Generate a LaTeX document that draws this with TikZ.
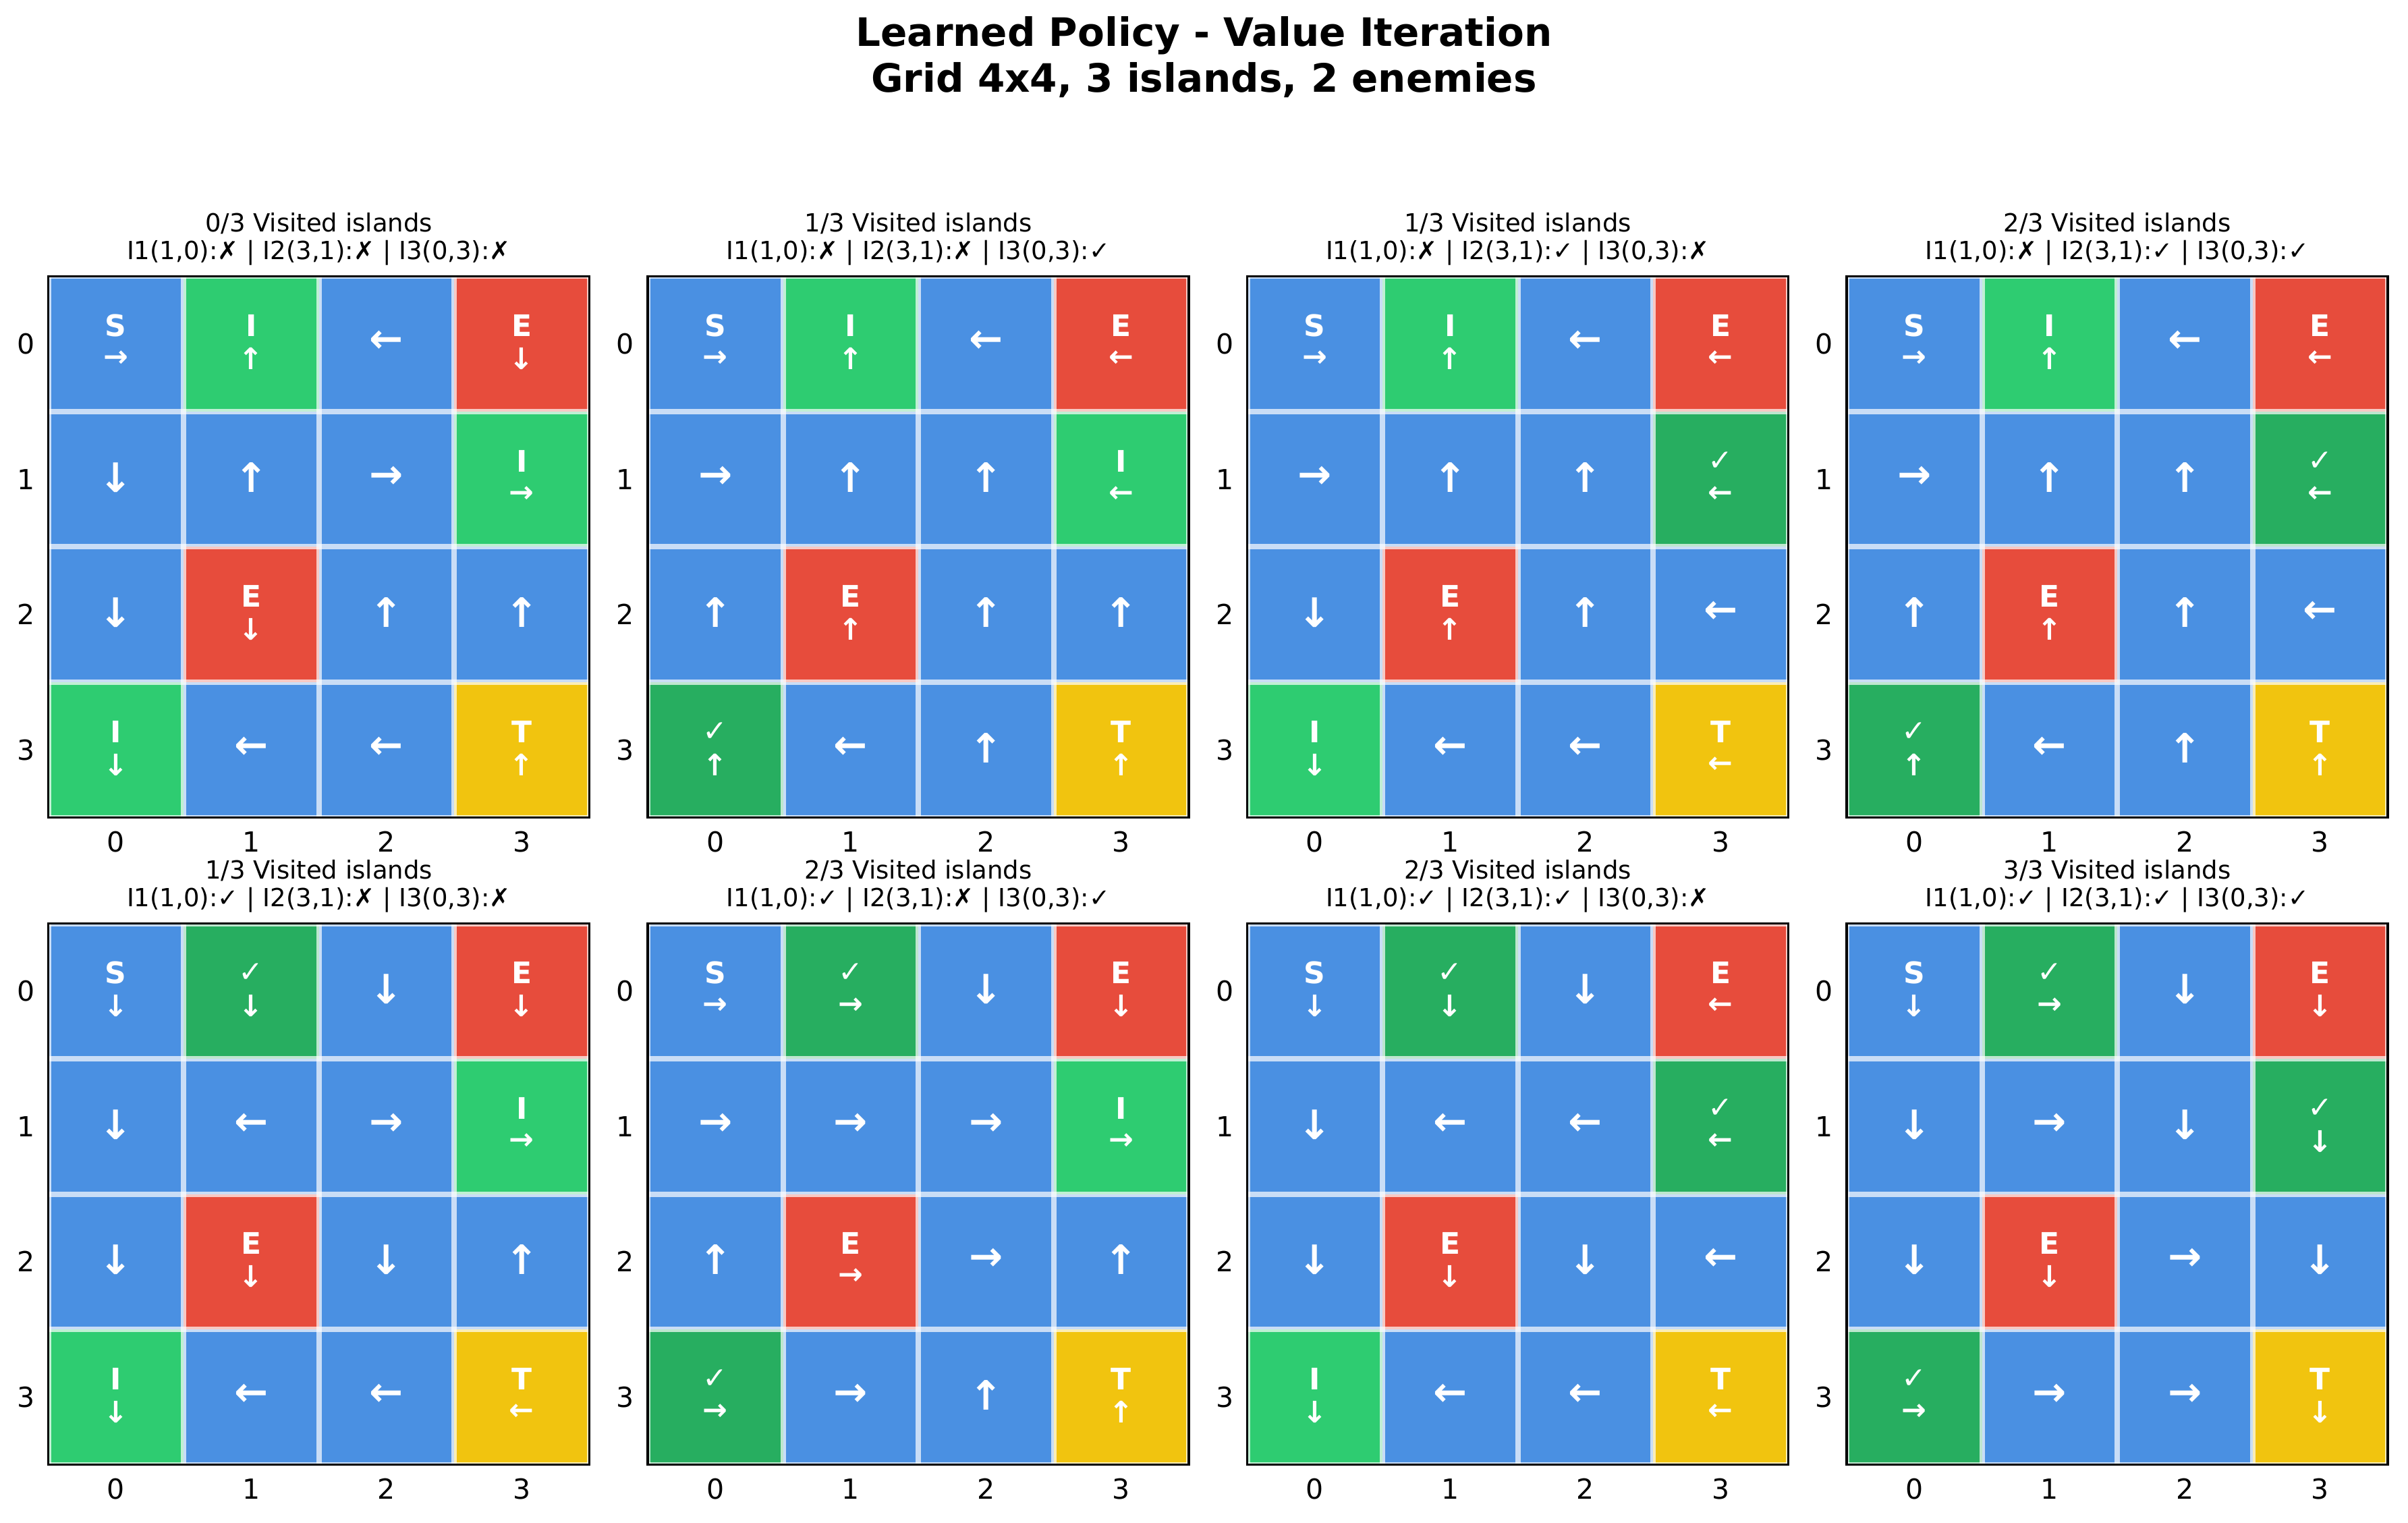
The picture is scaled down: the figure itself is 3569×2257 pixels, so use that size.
\documentclass[tikz,border=0pt]{standalone}
\usepackage{fontspec}
\setmainfont{DejaVu Sans}
\newfontfamily\djs{DejaVu Sans}
\definecolor{colB}{HTML}{4A90E2}
\definecolor{colS}{HTML}{4A90E2}
\definecolor{colI}{HTML}{2ECC71}
\definecolor{colV}{HTML}{27AE60}
\definecolor{colE}{HTML}{E74C3C}
\definecolor{colT}{HTML}{F1C40F}
\def\letS{S}\def\letI{I}\def\letE{E}\def\letT{T}\def\letV{{\mdseries ✓}}
\tikzset{
  titletext/.style={font=\fontsize{14.5}{17}\selectfont\bfseries, inner sep=0, anchor=base},
  subtext/.style={font=\fontsize{9.25}{11}\selectfont, inner sep=0, anchor=base},
  ticktext/.style={font=\fontsize{10.25}{12}\selectfont, inner sep=0},
  letter/.style={font=\fontsize{11}{13}\selectfont\bfseries, text=white, inner sep=0},
  smallarrow/.style={font=\fontsize{11}{13}\selectfont\bfseries, text=white, inner sep=0},
  bigarrow/.style={font=\fontsize{15}{18}\selectfont\bfseries, text=white, inner sep=0},
  gridline/.style={draw=white, draw opacity=0.7, line width=2pt},
  frame/.style={draw=black, line width=0.875pt},
}
\newcommand\drawpanel[6]{%
  \foreach \r/\c/\k/\a in {#6}{%
    \edef\cc{col\k}%
    \fill[fill=\cc] ({#2+\c*200.5},{#3+\r*200.5}) rectangle ++(200.5,200.5);
  }
  \foreach \i in {0,...,4}{%
    \draw[gridline] ({#2+\i*200.5},#3) -- ++(0,802);
    \draw[gridline] (#2,{#3+\i*200.5}) -- ++(802,0);
  }
  \foreach \r/\c/\k/\a in {#6}{%
    \pgfmathsetmacro\cx{#2+(\c+0.5)*200.5}%
    \pgfmathsetmacro\cy{#3+(\r+0.5)*200.5}%
    \if B\k
      \node[bigarrow] (p#1-\r-\c) at (\cx,\cy-3) {\a};
    \else
      \node[letter] (p#1-\r-\c-l) at (\cx,\cy-27) {\csname let\k\endcsname};
      \node[smallarrow] (p#1-\r-\c-a) at (\cx,\cy+22) {\a};
    \fi
  }
  \draw[frame] (#2,#3) rectangle ++(802,802);
  \foreach \i in {0,...,3}{%
    \node[ticktext] (p#1-y\i) at ({#2-33},{#3+(\i+0.5)*200.5}) {\i};
    \node[ticktext] (p#1-x\i) at ({#2+(\i+0.5)*200.5},{#3+838}) {\i};
  }
  \node[subtext] (p#1-s1) at ({#2+401},{#3-66}) {#4};
  \node[subtext] (p#1-s2) at ({#2+401},{#3-25}) {#5};
}
\begin{document}
\begin{tikzpicture}[x=0.25pt, y=-0.25pt]
\useasboundingbox (0,0) rectangle (3569,2257);
\node[titletext] (title1) at (1784.5,69) {Learned Policy - Value Iteration};
\node[titletext] (title2) at (1784.5,137) {Grid 4x4, 3 islands, 2 enemies};

\drawpanel{1}{71.5}{409.5}{0/3 Visited islands}{I1(1,0):✗ | I2(3,1):✗ | I3(0,3):✗}{
0/0/S/→, 0/1/I/↑, 0/2/B/←, 0/3/E/↓,
1/0/B/↓, 1/1/B/↑, 1/2/B/→, 1/3/I/→,
2/0/B/↓, 2/1/E/↓, 2/2/B/↑, 2/3/B/↑,
3/0/I/↓, 3/1/B/←, 3/2/B/←, 3/3/T/↑}

\drawpanel{2}{960}{409.5}{1/3 Visited islands}{I1(1,0):✗ | I2(3,1):✗ | I3(0,3):✓}{
0/0/S/→, 0/1/I/↑, 0/2/B/←, 0/3/E/←,
1/0/B/→, 1/1/B/↑, 1/2/B/↑, 1/3/I/←,
2/0/B/↑, 2/1/E/↑, 2/2/B/↑, 2/3/B/↑,
3/0/V/↑, 3/1/B/←, 3/2/B/↑, 3/3/T/↑}

\drawpanel{3}{1848.5}{409.5}{1/3 Visited islands}{I1(1,0):✗ | I2(3,1):✓ | I3(0,3):✗}{
0/0/S/→, 0/1/I/↑, 0/2/B/←, 0/3/E/←,
1/0/B/→, 1/1/B/↑, 1/2/B/↑, 1/3/V/←,
2/0/B/↓, 2/1/E/↑, 2/2/B/↑, 2/3/B/←,
3/0/I/↓, 3/1/B/←, 3/2/B/←, 3/3/T/←}

\drawpanel{4}{2737}{409.5}{2/3 Visited islands}{I1(1,0):✗ | I2(3,1):✓ | I3(0,3):✓}{
0/0/S/→, 0/1/I/↑, 0/2/B/←, 0/3/E/←,
1/0/B/→, 1/1/B/↑, 1/2/B/↑, 1/3/V/←,
2/0/B/↑, 2/1/E/↑, 2/2/B/↑, 2/3/B/←,
3/0/V/↑, 3/1/B/←, 3/2/B/↑, 3/3/T/↑}

\drawpanel{5}{71.5}{1368.5}{1/3 Visited islands}{I1(1,0):✓ | I2(3,1):✗ | I3(0,3):✗}{
0/0/S/↓, 0/1/V/↓, 0/2/B/↓, 0/3/E/↓,
1/0/B/↓, 1/1/B/←, 1/2/B/→, 1/3/I/→,
2/0/B/↓, 2/1/E/↓, 2/2/B/↓, 2/3/B/↑,
3/0/I/↓, 3/1/B/←, 3/2/B/←, 3/3/T/←}

\drawpanel{6}{960}{1368.5}{2/3 Visited islands}{I1(1,0):✓ | I2(3,1):✗ | I3(0,3):✓}{
0/0/S/→, 0/1/V/→, 0/2/B/↓, 0/3/E/↓,
1/0/B/→, 1/1/B/→, 1/2/B/→, 1/3/I/→,
2/0/B/↑, 2/1/E/→, 2/2/B/→, 2/3/B/↑,
3/0/V/→, 3/1/B/→, 3/2/B/↑, 3/3/T/↑}

\drawpanel{7}{1848.5}{1368.5}{2/3 Visited islands}{I1(1,0):✓ | I2(3,1):✓ | I3(0,3):✗}{
0/0/S/↓, 0/1/V/↓, 0/2/B/↓, 0/3/E/←,
1/0/B/↓, 1/1/B/←, 1/2/B/←, 1/3/V/←,
2/0/B/↓, 2/1/E/↓, 2/2/B/↓, 2/3/B/←,
3/0/I/↓, 3/1/B/←, 3/2/B/←, 3/3/T/←}

\drawpanel{8}{2737}{1368.5}{3/3 Visited islands}{I1(1,0):✓ | I2(3,1):✓ | I3(0,3):✓}{
0/0/S/↓, 0/1/V/→, 0/2/B/↓, 0/3/E/↓,
1/0/B/↓, 1/1/B/→, 1/2/B/↓, 1/3/V/↓,
2/0/B/↓, 2/1/E/↓, 2/2/B/→, 2/3/B/↓,
3/0/V/→, 3/1/B/→, 3/2/B/→, 3/3/T/↓}
\end{tikzpicture}
\end{document}
